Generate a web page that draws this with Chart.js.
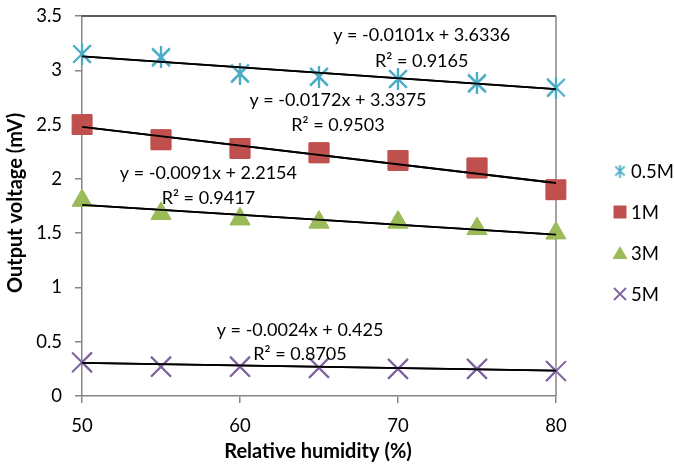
<!DOCTYPE html>
<html>
<head>
<meta charset="utf-8">
<script src="https://cdn.jsdelivr.net/npm/chart.js@4.4.1/dist/chart.umd.min.js"></script>
<style>
  html, body { margin: 0; padding: 0; background: #fff; }
</style>
</head>
<body>
<canvas id="chart" width="674" height="466"></canvas>
<script>
// data
const humidity = [50, 55, 60, 65, 70, 75, 80];
const volt05M = [3.15, 3.12, 2.97, 2.94, 2.92, 2.88, 2.84];
const volt1M = [2.50, 2.36, 2.28, 2.24, 2.17, 2.10, 1.90];
const volt3M = [1.80, 1.68, 1.63, 1.60, 1.60, 1.54, 1.50];
const volt5M = [0.31, 0.27, 0.27, 0.26, 0.25, 0.25, 0.23];
const seriesNames = ['0.5M', '1M', '3M', '5M'];

// linear trend lines, value at x = 50 and x = 80
const trendX = [50, 80];
const trend05M = [3.128, 2.826];
const trend1M = [2.478, 1.962];
const trend3M = [1.760, 1.487];
const trend5M = [0.305, 0.233];

const equations = ['y = -0.0101x + 3.6336', 'y = -0.0172x + 3.3375', 'y = -0.0091x + 2.2154', 'y = -0.0024x + 0.425'];
const rSquared = ['R² = 0.9165', 'R² = 0.9503', 'R² = 0.9417', 'R² = 0.8705'];

const xTicks = [50, 60, 70, 80];
const yTicks = [0, 0.5, 1, 1.5, 2, 2.5, 3, 3.5];

// styles
const colors = ['#4BACC6', '#C0504D', '#9BBB59', '#8064A2'];
const FONT = 'Lato, "Open Sans", sans-serif';
const AXIS_GREY = '#868686';

// where the equation labels sit (in data units)
const labelPlace = [
  {x: 71.5, eq: 3.32, r2: 3.08},
  {x: 66.2, eq: 2.72, r2: 2.49},
  {x: 58.0, eq: 2.05, r2: 1.82},
  {x: 63.8, eq: 0.61, r2: 0.385}
];

// asterisk marker (X plus vertical bar) like the spreadsheet one
function makeAsterisk(size, width) {
  const c = document.createElement('canvas');
  c.width = size;
  c.height = size;
  const g = c.getContext('2d');
  const m = width;
  g.strokeStyle = colors[0];
  g.lineWidth = width;
  g.beginPath();
  g.moveTo(m, m); g.lineTo(size - m, size - m);
  g.moveTo(size - m, m); g.lineTo(m, size - m);
  g.moveTo(size / 2, 0); g.lineTo(size / 2, size);
  g.stroke();
  return c;
}
const starBig = makeAsterisk(22, 2.2);
const starSmall = makeAsterisk(13, 1.8);

function toPoints(ys, xs) {
  return ys.map((y, i) => ({x: xs[i], y: y}));
}

const valueSets = [volt05M, volt1M, volt3M, volt5M];
const trendSets = [trend05M, trend1M, trend3M, trend5M];
const markerStyles = [starBig, 'rect', 'triangle', 'crossRot'];
const markerRadius = [11, 14, 11.5, 14];

const datasets = [];
valueSets.forEach((vals, i) => {
  datasets.push({
    label: seriesNames[i],
    data: toPoints(vals, humidity),
    showLine: false,
    pointStyle: markerStyles[i],
    pointRadius: markerRadius[i],
    pointBackgroundColor: colors[i],
    pointBorderColor: colors[i],
    pointBorderWidth: i === 3 ? 2 : 1,
    order: 2
  });
});
trendSets.forEach((vals, i) => {
  datasets.push({
    label: 'trend ' + seriesNames[i],
    data: toPoints(vals, trendX),
    showLine: true,
    borderColor: '#000',
    borderWidth: 1.8,
    pointRadius: 0,
    order: 1
  });
});

const extrasPlugin = {
  id: 'extras',
  afterDatasetsDraw(chart) {
    const ctx = chart.ctx;
    const area = chart.chartArea;
    const xs = chart.scales.x;
    const ys = chart.scales.y;

    // top and right frame
    ctx.save();
    ctx.lineWidth = 1.5;
    ctx.strokeStyle = '#262626';
    ctx.beginPath();
    ctx.moveTo(area.left, area.top);
    ctx.lineTo(area.right, area.top);
    ctx.stroke();
    ctx.strokeStyle = AXIS_GREY;
    ctx.beginPath();
    ctx.moveTo(area.right, area.top);
    ctx.lineTo(area.right, area.bottom);
    ctx.stroke();
    ctx.restore();

    // redraw markers, then trend lines, above the frame edge
    chart.getSortedVisibleDatasetMetas().forEach(meta => {
      if (meta.index < 4) meta.controller.draw();
    });
    chart.getSortedVisibleDatasetMetas().forEach(meta => {
      if (meta.index >= 4) meta.controller.draw();
    });

    // equation labels
    ctx.save();
    ctx.fillStyle = '#000';
    ctx.font = '18px ' + FONT;
    ctx.textAlign = 'center';
    ctx.textBaseline = 'middle';
    labelPlace.forEach((p, i) => {
      const px = xs.getPixelForValue(p.x);
      ctx.fillText(equations[i], px, ys.getPixelForValue(p.eq));
      ctx.fillText(rSquared[i], px, ys.getPixelForValue(p.r2));
    });

    // axis titles
    ctx.font = 'bold 20px ' + FONT;
    ctx.fillText('Relative humidity (%)', 318, 452);
    ctx.translate(16, 203);
    ctx.rotate(-Math.PI / 2);
    ctx.fillText('Output voltage (mV)', 0, 0);
    ctx.restore();

    // legend
    ctx.save();
    const lx = 620;
    const legendY = [171, 212, 253, 294];
    ctx.font = '18.5px ' + FONT;
    ctx.textAlign = 'left';
    ctx.textBaseline = 'middle';
    legendY.forEach((y, i) => {
      ctx.fillStyle = colors[i];
      ctx.strokeStyle = colors[i];
      if (i === 0) {
        ctx.drawImage(starSmall, lx - 6.5, y - 6.5);
      } else if (i === 1) {
        ctx.fillRect(lx - 6.5, y - 6.5, 13, 13);
      } else if (i === 2) {
        ctx.beginPath();
        ctx.moveTo(lx, y - 7);
        ctx.lineTo(lx + 7.5, y + 6);
        ctx.lineTo(lx - 7.5, y + 6);
        ctx.closePath();
        ctx.fill();
      } else {
        ctx.lineWidth = 1.8;
        ctx.beginPath();
        ctx.moveTo(lx - 6, y - 6); ctx.lineTo(lx + 6, y + 6);
        ctx.moveTo(lx + 6, y - 6); ctx.lineTo(lx - 6, y + 6);
        ctx.stroke();
      }
      ctx.fillStyle = '#000';
      ctx.fillText(seriesNames[i], lx + 11, y + 1);
    });
    ctx.restore();
  }
};

new Chart(document.getElementById('chart'), {
  type: 'scatter',
  data: {datasets: datasets},
  options: {
    responsive: false,
    animation: false,
    devicePixelRatio: 1,
    layout: {padding: {top: 13, right: 118, left: 0, bottom: 0}},
    plugins: {
      legend: {display: false},
      tooltip: {enabled: false}
    },
    scales: {
      x: {
        type: 'linear',
        min: 50,
        max: 80,
        afterBuildTicks(s) { s.ticks = xTicks.map(v => ({value: v})); },
        afterFit(s) { s.height = 70; s.paddingLeft = 0; s.paddingRight = 0; },
        ticks: {color: '#000', font: {family: FONT, size: 18.5}, padding: 12},
        grid: {drawOnChartArea: false, tickLength: 7, color: AXIS_GREY, lineWidth: 1.5},
        border: {color: AXIS_GREY, width: 1.5}
      },
      y: {
        min: 0,
        max: 3.5,
        afterBuildTicks(s) { s.ticks = yTicks.map(v => ({value: v})); },
        afterFit(s) { s.width = 82; s.paddingTop = 0; s.paddingBottom = 0; },
        ticks: {
          color: '#000',
          font: {family: FONT, size: 18.5},
          padding: 13,
          callback: v => String(v)
        },
        grid: {drawOnChartArea: false, tickLength: 7, color: AXIS_GREY, lineWidth: 1.5},
        border: {color: AXIS_GREY, width: 1.5}
      }
    }
  },
  plugins: [extrasPlugin]
});
</script>
</body>
</html>
